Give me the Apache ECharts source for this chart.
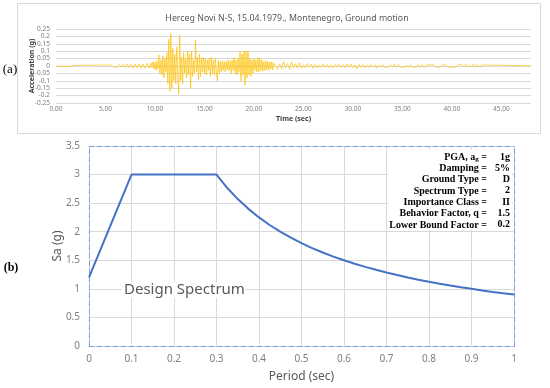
<!DOCTYPE html>
<html>
<head>
<meta charset="utf-8">
<script src="https://cdn.jsdelivr.net/npm/echarts@6/dist/echarts.min.js"></script>
<style>
html,body{margin:0;padding:0;background:#fff;}
#c{width:550px;height:388px;}
</style>
</head>
<body>
<div id="c"></div>
<script>
// ---------- Panel (a): ground motion record ----------
const titleA = 'Herceg Novi N-S, 15.04.1979., Montenegro, Ground motion';
// pre-event segment: starts 0 s, sampled every 0.2 s
const preStart = 0, preStep = 0.2;
const accPre = [0, 0.002, -0.002, 0.003, -0.001, 0.002, -0.003, 0.002, 0.001, -0.002,
  0.004, -0.003, 0.005, -0.004, 0.006, -0.005, 0.004, -0.006, 0.007, -0.004,
  0.005, -0.006, 0.006, -0.005, 0.007, -0.006, 0.005, -0.007, 0.008, -0.006,
  0.007, -0.008, 0.009, -0.007, 0.01, -0.009, 0.012, -0.01, 0.011, -0.013,
  0.014, -0.012, 0.015, -0.016, 0.013, -0.015, 0.018, -0.014];
// strong-motion segment: starts 9.6 s, sampled every 0.1 s
const strongStart = 9.6, strongStep = 0.1;
const accStrong = [0.02, -0.01, 0.03, -0.02, 0.025,
  -0.03, 0.035, -0.02, 0.075, -0.05,
  0.04, -0.06, 0.07, -0.08, 0.05,
  -0.04, 0.09, -0.12, 0.18, -0.17,
  0.22, -0.15, 0.12, -0.1, 0.08,
  -0.12, 0.13, -0.08, -0.19, 0.21,
  -0.1, 0.06, -0.12, 0.09, -0.05,
  0.05, -0.08, 0.1, -0.06, 0.08,
  -0.15, 0.1, -0.07, 0.04, -0.05,
  0.175, -0.04, 0.06, -0.09, 0.08,
  -0.07, 0.05, -0.04, 0.06, -0.05,
  0.05, -0.06, 0.04, -0.03, 0.05,
  -0.07, 0.06, -0.05, 0.04, -0.06,
  0.05, -0.04, -0.1, 0.04, -0.05,
  0.03, -0.04, 0.035, -0.03, 0.03,
  -0.04, 0.03, -0.025, 0.04, -0.03,
  0.035, -0.05, 0.04, -0.03, 0.06,
  -0.05, 0.04, -0.06, 0.05, -0.04,
  0.1, -0.1, 0.08, -0.06, 0.1,
  -0.13, 0.1, -0.08, 0.1, -0.06,
  0.05, -0.07, 0.04, -0.05, 0.05,
  -0.03, 0.04, -0.04, 0.06, -0.04,
  0.05, -0.03, 0.04, -0.035, 0.03,
  -0.03, 0.035, -0.025, 0.03, -0.03,
  0.025, -0.02, 0.03, -0.025, 0.02];
// coda segment: starts 22.2 s, sampled every 0.2 s
const codaStart = 22.2, codaStep = 0.2;
const accCoda = [0.02, -0.022, 0.015, -0.018, 0.03, -0.012, 0.018, -0.022, 0.028, -0.01,
  0.016, -0.014, 0.022, -0.016, 0.008, -0.012, 0.018, -0.006, 0.012, -0.016,
  0.01, -0.012, 0.006, -0.01, 0.014, -0.008, 0.01, -0.012, 0.008, -0.014,
  0.01, -0.006, 0.012, -0.01, 0.008, -0.012, 0.016, -0.008, 0.012, -0.01,
  0.008, -0.02, 0.01, -0.008, 0.01, -0.012, 0.006, -0.01, 0.009, -0.006,
  0.008, -0.016, 0.006, -0.008, 0.01, -0.007, 0.006, -0.008, 0.009, -0.006,
  0.012, -0.008, 0.009, -0.006, 0.007, -0.009, 0.006, -0.01, 0.008, -0.006,
  0.006, -0.007, 0.01, -0.006, 0.008, -0.011, 0.006, -0.005, 0.007, -0.006,
  0.008, -0.006, 0.005, -0.008, 0.007, -0.005, 0.008, -0.006, 0.005, -0.007,
  0.006, -0.008, 0.007, -0.005, 0.01, -0.006, 0.012, -0.007, 0.008, -0.006,
  0.016, -0.006, 0.01, -0.008, 0.006, -0.005, 0.007, -0.005, 0.006, -0.005,
  0.005, -0.004, 0.006, -0.004, 0.005, -0.005, 0.004, -0.004, 0.004, -0.003,
  0.003, -0.003, 0.003, -0.003, 0.002, -0.003, 0.002, -0.002, 0.002, 0];

// ---------- Panel (b): design spectrum ----------
const periods = [0, 0.1, 0.3, 0.325, 0.35, 0.375, 0.4, 0.425, 0.45, 0.475, 0.5, 0.525, 0.55, 0.575,
  0.6, 0.625, 0.65, 0.675, 0.7, 0.725, 0.75, 0.775, 0.8, 0.825, 0.85, 0.875, 0.9, 0.925, 0.95, 0.975, 1.0];
const saValues = [1.2, 3.0, 3.0, 2.769, 2.571, 2.4, 2.25, 2.118, 2.0, 1.895, 1.8, 1.714, 1.636, 1.565,
  1.5, 1.44, 1.385, 1.333, 1.286, 1.241, 1.2, 1.161, 1.125, 1.091, 1.059, 1.029, 1.0, 0.973, 0.947, 0.923, 0.9];
const paramLabels = ['Damping =', 'Ground Type =', 'Spectrum Type =', 'Importance Class =', 'Behavior Factor, q =', 'Lower Bound Factor ='];
const paramValues = ['1g', '5%', 'D', '2', 'II', '1.5', '0.2'];

// ---------- build ----------
function seg(start, step, arr) { return arr.map((v, i) => [+(start + i * step).toFixed(2), v]); }
const accData = seg(preStart, preStep, accPre).concat(seg(strongStart, strongStep, accStrong), seg(codaStart, codaStep, accCoda));
const specData = periods.map((p, i) => [p, saValues[i]]);

const chart = echarts.init(document.getElementById('c'), null, {renderer: 'canvas'});
const gray = '#7f7f7f';
const dashBlue = '#7b9fdc';

const graphics = [
  {type: 'rect', z: 1, shape: {x: 17.5, y: 3.5, width: 523, height: 130}, style: {fill: 'none', stroke: '#d9d9d9', lineWidth: 1}, silent: true},
  {type: 'rect', z: 50, shape: {x: 388, y: 150, width: 124, height: 80}, style: {fill: '#fff'}, silent: true},
  {type: 'rect', z: 50, shape: {x: 122, y: 282, width: 124, height: 16}, style: {fill: '#fff'}, silent: true},
  {type: 'text', z: 60, x: 10, y: 70, style: {text: '(a)', font: '13px "Liberation Serif"', fill: '#000', align: 'center', verticalAlign: 'middle'}},
  {type: 'text', z: 60, x: 11, y: 268, style: {text: '(b)', font: 'bold 12px "Liberation Serif"', fill: '#000', align: 'center', verticalAlign: 'middle'}},
  {type: 'text', z: 60, x: 124, y: 290, style: {text: 'Design Spectrum', font: '15px "Noto Sans"', fill: '#595959', align: 'left', verticalAlign: 'middle'}},
  {type: 'text', z: 60, x: 487, y: 157, style: {text: '{a|PGA, a}{s|g}{a| =}', align: 'right', verticalAlign: 'middle',
    rich: {a: {fontFamily: 'Liberation Serif', fontWeight: 'bold', fontSize: 10, color: '#000'},
           s: {fontFamily: 'Liberation Serif', fontWeight: 'bold', fontSize: 7, color: '#000', verticalAlign: 'bottom', padding: [4, 0, 0, 0]}}}}
];
paramLabels.forEach((t, i) => {
  graphics.push({type: 'text', z: 60, x: 487, y: 168.5 + i * 11.3, style: {text: t, align: 'right', verticalAlign: 'middle', font: 'bold 10px "Liberation Serif"', fill: '#000'}});
});
paramValues.forEach((t, i) => {
  graphics.push({type: 'text', z: 60, x: 510, y: 157 + i * 11.3, style: {text: t, align: 'right', verticalAlign: 'middle', font: 'bold 10px "Liberation Serif"', fill: '#000'}});
});

const option = {
  animation: false,
  backgroundColor: '#fff',
  title: {text: titleA, left: 282, top: 9, textAlign: 'center',
    textStyle: {fontFamily: 'Noto Sans', fontSize: 8.8, fontWeight: 'normal', color: '#595959'}},
  grid: [
    {left: 56, right: 19, top: 29, bottom: 285},
    {left: 89, right: 36, top: 146, bottom: 41}
  ],
  xAxis: [
    {gridIndex: 0, type: 'value', min: 0, max: 48, interval: 5,
      name: 'Time (sec)', nameLocation: 'middle', nameGap: 12, nameMoveOverlap: false,
      nameTextStyle: {fontFamily: 'Noto Sans', fontWeight: 'bold', fontSize: 7, color: '#404040'},
      axisLine: {show: false, onZero: false}, axisTick: {show: false}, splitLine: {show: false},
      axisLabel: {showMaxLabel: false, formatter: v => v.toFixed(2), fontFamily: 'Noto Sans', fontSize: 6.5, color: gray, margin: 3}},
    {gridIndex: 1, type: 'value', min: 0, max: 1, interval: 0.1,
      name: 'Period (sec)', nameLocation: 'middle', nameGap: 25, nameMoveOverlap: false,
      nameTextStyle: {fontFamily: 'Noto Sans', fontSize: 12, color: '#595959'},
      axisLine: {show: true, onZero: false, lineStyle: {color: dashBlue, type: [5, 3], width: 1}}, axisTick: {show: false},
      splitLine: {show: true, lineStyle: {color: '#d9d9d9', width: 1}},
      axisLabel: {fontFamily: 'Noto Sans', fontSize: 10, color: gray, margin: 8}},
    {gridIndex: 1, type: 'value', min: 0, max: 1, position: 'top',
      axisLine: {show: true, onZero: false, lineStyle: {color: dashBlue, type: [5, 3], width: 1}},
      axisTick: {show: false}, axisLabel: {show: false}, splitLine: {show: false}}
  ],
  yAxis: [
    {gridIndex: 0, type: 'value', min: -0.25, max: 0.25, interval: 0.05,
      name: 'Acceleration (g)', nameLocation: 'middle', nameGap: 21, nameMoveOverlap: false,
      nameTextStyle: {fontFamily: 'Noto Sans', fontWeight: 'bold', fontSize: 7, color: '#404040'},
      axisLine: {show: false}, axisTick: {show: false},
      splitLine: {show: true, lineStyle: {color: '#d9d9d9', width: 1}},
      axisLabel: {formatter: v => String(parseFloat(v.toFixed(2))), fontFamily: 'Noto Sans', fontSize: 6.5, color: gray, margin: 6}},
    {gridIndex: 1, type: 'value', min: 0, max: 3.5, interval: 0.5,
      name: 'Sa (g)', nameLocation: 'middle', nameGap: 25, nameMoveOverlap: false,
      nameTextStyle: {fontFamily: 'Noto Sans', fontSize: 12, color: '#595959'},
      axisLine: {show: true, onZero: false, lineStyle: {color: dashBlue, type: [5, 3], width: 1}}, axisTick: {show: false},
      splitLine: {show: true, lineStyle: {color: '#d9d9d9', width: 1}},
      axisLabel: {fontFamily: 'Noto Sans', fontSize: 10, color: gray, margin: 9}},
    {gridIndex: 1, type: 'value', min: 0, max: 3.5, position: 'right',
      axisLine: {show: true, onZero: false, lineStyle: {color: dashBlue, type: [5, 3], width: 1}},
      axisTick: {show: false}, axisLabel: {show: false}, splitLine: {show: false}}
  ],
  series: [
    {type: 'line', xAxisIndex: 0, yAxisIndex: 0, data: accData, showSymbol: false, symbol: 'none',
      lineStyle: {color: '#FFC000', width: 0.7}, z: 3},
    {type: 'line', xAxisIndex: 1, yAxisIndex: 1, data: specData, showSymbol: false, symbol: 'none',
      lineStyle: {color: '#4472C4', width: 2}, z: 3}
  ],
  graphic: graphics
};
chart.setOption(option);
</script>
</body>
</html>
